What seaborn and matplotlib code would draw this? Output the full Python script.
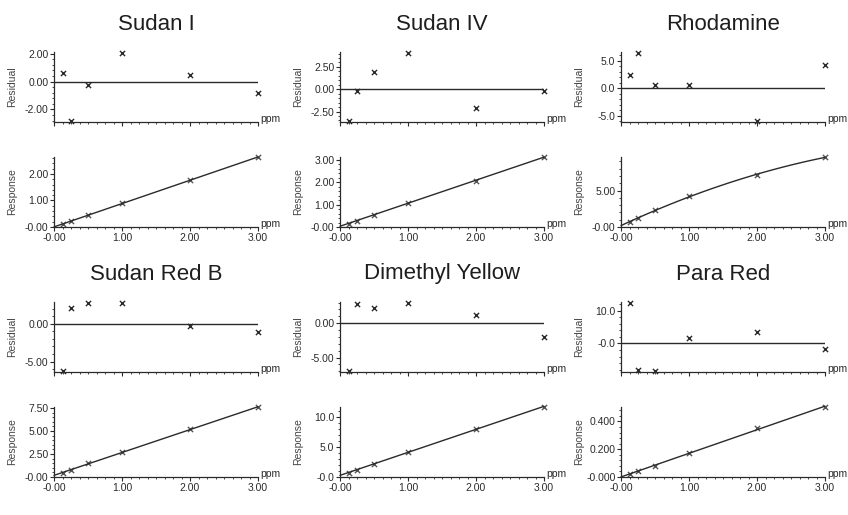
import numpy as np
import pandas as pd
import seaborn as sns
import matplotlib.pyplot as plt
from matplotlib.ticker import AutoMinorLocator, FixedLocator, FixedFormatter

sns.set_theme(style='ticks')
plt.rcParams['font.family'] = ['Liberation Sans', 'DejaVu Sans']

# concentrations (ppm)
conc = [0.125, 0.25, 0.5, 1.0, 2.0, 3.0]

compounds = ['Sudan I', 'Sudan IV', 'Rhodamine', 'Sudan Red B', 'Dimethyl Yellow', 'Para Red']
fit_order = [1, 1, 2, 1, 1, 1]

# residuals (%)
resid_sudan1 = [0.64, -2.85, -0.24, 2.07, 0.49, -0.80]
resid_sudan4 = [-3.60, -0.20, 1.95, 4.10, -2.10, -0.20]
resid_rhodamine = [2.35, 6.50, 0.55, 0.60, -6.05, 4.30]
resid_redb = [-6.30, 2.15, 2.80, 2.76, -0.35, -1.10]
resid_dimethyl = [-7.00, 2.84, 2.26, 2.98, 1.15, -2.00]
resid_para = [12.4, -8.1, -8.5, 1.6, 3.5, -1.6]

# responses
resp_sudan1 = [0.11, 0.22, 0.44, 0.90, 1.76, 2.64]
resp_sudan4 = [0.15, 0.29, 0.55, 1.09, 2.07, 3.13]
resp_rhodamine = [0.70, 1.20, 2.27, 4.30, 7.08, 9.60]
resp_redb = [0.44, 0.77, 1.47, 2.70, 5.16, 7.60]
resp_dimethyl = [0.68, 1.20, 2.20, 4.20, 8.10, 11.7]
resp_para = [0.024, 0.041, 0.080, 0.172, 0.350, 0.504]

residuals = [resid_sudan1, resid_sudan4, resid_rhodamine, resid_redb, resid_dimethyl, resid_para]
responses = [resp_sudan1, resp_sudan4, resp_rhodamine, resp_redb, resp_dimethyl, resp_para]

# tick positions / labels
resid_ticks = [[-2, 0, 2], [-2.5, 0, 2.5], [-5, 0, 5], [-5, 0], [-5, 0], [0, 10]]
resid_labels = [['-2.00', '0.00', '2.00'], ['-2.50', '0.00', '2.50'], ['-5.0', '0.0', '5.0'],
                ['-5.00', '0.00'], ['-5.00', '0.00'], ['-0.0', '10.0']]
resp_ticks = [[0, 1, 2], [0, 1, 2, 3], [0, 5], [0, 2.5, 5, 7.5], [0, 5, 10], [0, 0.2, 0.4]]
resp_labels = [['-0.00', '1.00', '2.00'], ['-0.00', '1.00', '2.00', '3.00'], ['-0.00', '5.00'],
               ['-0.00', '2.50', '5.00', '7.50'], ['-0.0', '5.0', '10.0'], ['-0.000', '0.200', '0.400']]
x_ticks = [0, 1, 2, 3]
x_labels = ['-0.00', '1.00', '2.00', '3.00']

ink = '#2a2a2a'
W, H = 848, 515
col_left = [54, 340, 621]
ax_w = 204
ax_h = 70
row_tops = [(52, 157), (302, 407)]
title_y = [25, 274]


def style_axis(ax, ticks, labels, show_x):
    sns.despine(ax=ax)
    for s in ['left', 'bottom']:
        ax.spines[s].set_color(ink)
        ax.spines[s].set_linewidth(0.9)
    ax.set_xlim(0, 3)
    ax.xaxis.set_major_locator(FixedLocator(x_ticks))
    ax.xaxis.set_minor_locator(AutoMinorLocator(8))
    ax.yaxis.set_major_locator(FixedLocator(ticks))
    ax.yaxis.set_major_formatter(FixedFormatter(labels))
    ax.yaxis.set_minor_locator(AutoMinorLocator(5))
    if show_x:
        ax.xaxis.set_major_formatter(FixedFormatter(x_labels))
    else:
        ax.set_xticklabels([])
    ax.tick_params(which='major', length=3, width=0.8, color=ink, labelsize=7.5,
                   labelcolor=ink, pad=1)
    ax.tick_params(which='minor', length=1.5, width=0.6, color=ink)
    ax.set_xlabel('')
    ax.text(1.01, 0.04, 'ppm', transform=ax.transAxes, fontsize=7.5, color=ink,
            ha='left', va='center')


fig = plt.figure(figsize=(W / 100, H / 100), dpi=100)

for i, name in enumerate(compounds):
    r, c = divmod(i, 3)
    left = col_left[c] / W
    top_res, top_rsp = row_tops[r]

    ax_res = fig.add_axes([left, 1 - (top_res + ax_h) / H, ax_w / W, ax_h / H])
    ax_rsp = fig.add_axes([left, 1 - (top_rsp + ax_h) / H, ax_w / W, ax_h / H])

    df = pd.DataFrame({'ppm': conc, 'Residual': residuals[i], 'Response': responses[i]})

    # residual panel
    ax_res.axhline(0, color=ink, lw=1.0)
    sns.scatterplot(data=df, x='ppm', y='Residual', marker='x', s=14, color=ink,
                    linewidth=1.0, ax=ax_res, clip_on=False, zorder=3)
    lo, hi = df['Residual'].min(), df['Residual'].max()
    span = hi - lo
    ax_res.set_ylim(lo - 0.01 * span, hi + 0.01 * span)
    style_axis(ax_res, resid_ticks[i], resid_labels[i], False)
    ax_res.set_ylabel('Residual', fontsize=7.5, color='#444444')
    ax_res.yaxis.set_label_coords(-0.18, 0.5)

    # response panel
    ax_rsp.set_xlim(0, 3)
    sns.regplot(data=df, x='ppm', y='Response', order=fit_order[i], ci=None, truncate=False,
                marker='x', color=ink, ax=ax_rsp,
                scatter_kws={'s': 14, 'linewidths': 1.0, 'clip_on': False, 'zorder': 3},
                line_kws={'lw': 1.0, 'clip_on': False})
    ax_rsp.set_ylim(0, df['Response'].max())
    style_axis(ax_rsp, resp_ticks[i], resp_labels[i], True)
    ax_rsp.set_ylabel('Response', fontsize=7.5, color='#444444')
    ax_rsp.yaxis.set_label_coords(-0.18, 0.5)

    fig.text((col_left[c] + ax_w / 2) / W, 1 - title_y[r] / H, name, fontsize=16,
             color='#1e1e1e', ha='center', va='center')

fig.savefig('out.png', dpi=100, facecolor='white')
